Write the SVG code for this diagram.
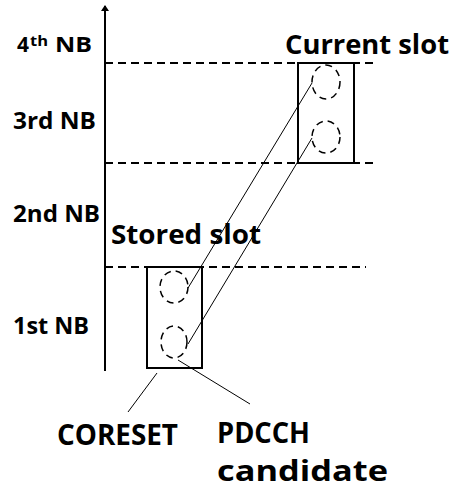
<svg xmlns="http://www.w3.org/2000/svg" width="454" height="490" viewBox="0 0 454 490">
<style>
.lbl{font-family:"Open Sans","Liberation Sans",sans-serif;font-weight:bold;fill:#000}
.dash{stroke:#000;stroke-width:2;stroke-dasharray:8 5;fill:none}
.box{stroke:#000;stroke-width:2;fill:#fff}
.cand{stroke:#000;stroke-width:1.5;stroke-dasharray:7 5;fill:none}
.thin{stroke:#000;stroke-width:1;fill:none}
</style>
<defs>
<marker id="arr" markerWidth="6" markerHeight="8" refX="5" refY="4" orient="auto" markerUnits="userSpaceOnUse">
<path d="M0,0 L6,4 L0,8 Z" fill="#000"/>
</marker>
</defs>
<rect width="454" height="490" fill="#fff"/>
<g id="axis">
<line x1="105" y1="371" x2="105" y2="6" stroke="#000" stroke-width="2" marker-end="url(#arr)"/>
</g>
<g id="boundaries">
<line class="dash" x1="105" y1="63" x2="376" y2="63"/>
<line class="dash" x1="105" y1="163" x2="376" y2="163"/>
<line class="dash" x1="105" y1="267" x2="366" y2="267"/>
</g>
<g id="labels">
<text class="lbl" x="17" y="52" font-size="21" textLength="12" lengthAdjust="spacingAndGlyphs">4</text>
<text class="lbl" x="30" y="46" font-size="14" textLength="18" lengthAdjust="spacingAndGlyphs">th</text>
<text class="lbl" x="55" y="52" font-size="21" textLength="37" lengthAdjust="spacingAndGlyphs">NB</text>
<text class="lbl" x="13" y="129" font-size="24" textLength="83" lengthAdjust="spacingAndGlyphs">3rd NB</text>
<text class="lbl" x="13" y="222" font-size="24" textLength="87" lengthAdjust="spacingAndGlyphs">2nd NB</text>
<text class="lbl" x="13" y="334" font-size="24" textLength="76" lengthAdjust="spacingAndGlyphs">1st NB</text>
</g>
<g id="current-slot">
<rect class="box" x="298" y="63" width="56" height="100"/>
<ellipse class="cand" cx="326" cy="82" rx="14" ry="17"/>
<ellipse class="cand" cx="326" cy="137" rx="14" ry="16"/>
<text class="lbl" x="285" y="54" font-size="26" textLength="164" lengthAdjust="spacingAndGlyphs">Current slot</text>
</g>
<g id="stored-slot">
<rect class="box" x="147" y="267" width="55" height="101"/>
<ellipse class="cand" cx="174" cy="287" rx="14" ry="16"/>
<ellipse class="cand" cx="174" cy="342" rx="13" ry="16"/>
<text class="lbl" x="111" y="244" font-size="26" textLength="150" lengthAdjust="spacingAndGlyphs">Stored slot</text>
</g>
<g id="connectors">
<line class="thin" x1="312" y1="83" x2="188" y2="288"/>
<line class="thin" x1="312" y1="138" x2="188" y2="344"/>
<line class="thin" x1="157" y1="373" x2="128" y2="412"/>
<line class="thin" x1="178" y1="360" x2="250" y2="404"/>
</g>
<g id="coreset-label">
<text class="lbl" x="57" y="445" font-size="29" textLength="121" lengthAdjust="spacingAndGlyphs">CORESET</text>
</g>
<g id="pdcch-label">
<text class="lbl" x="217" y="443" font-size="29" textLength="93" lengthAdjust="spacingAndGlyphs">PDCCH</text>
<text class="lbl" x="217" y="481" font-size="29" textLength="171" lengthAdjust="spacingAndGlyphs">candidate</text>
</g>
</svg>
